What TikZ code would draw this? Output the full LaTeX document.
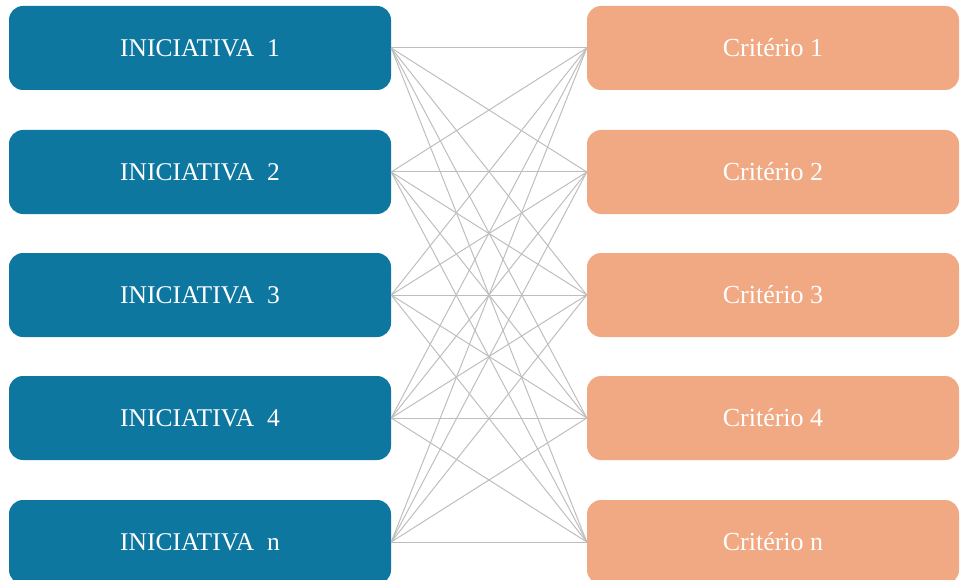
\documentclass[tikz,border=0pt]{standalone}
\usepackage{fontspec}
\setmainfont{Liberation Serif}
\definecolor{iniblue}{HTML}{0E77A0}
\definecolor{critorange}{HTML}{F0A982}
\definecolor{linkgray}{HTML}{BEBEBE}
\begin{document}
\begin{tikzpicture}[x=1pt,y=-1pt,
  inibox/.style={draw=none,fill=iniblue,rounded corners=14pt,minimum width=382pt,minimum height=84pt,text=white,font=\fontsize{25.5}{28}\selectfont,inner sep=0pt},
  critbox/.style={draw=none,fill=critorange,rounded corners=14pt,minimum width=372pt,minimum height=84pt,text=white,font=\fontsize{26}{28}\selectfont,inner sep=0pt},
  link/.style={draw=linkgray,line width=1pt}]
\useasboundingbox (0,0) rectangle (960,580);
\begin{scope}
\clip (0,0) rectangle (960,580);
\foreach \i/\lab/\y in {1/1/48,2/2/172,3/3/295,4/4/418,5/n/542}{
  \node[inibox] (L\i) at (200,\y) {INICIATIVA\ \ \lab};
  \node[critbox] (R\i) at (773,\y) {Critério \lab};
}
\foreach \i in {1,...,5}{
  \foreach \j in {1,...,5}{
    \draw[link] (L\i.east) -- (R\j.west);
  }
}
\end{scope}
\end{tikzpicture}
\end{document}
